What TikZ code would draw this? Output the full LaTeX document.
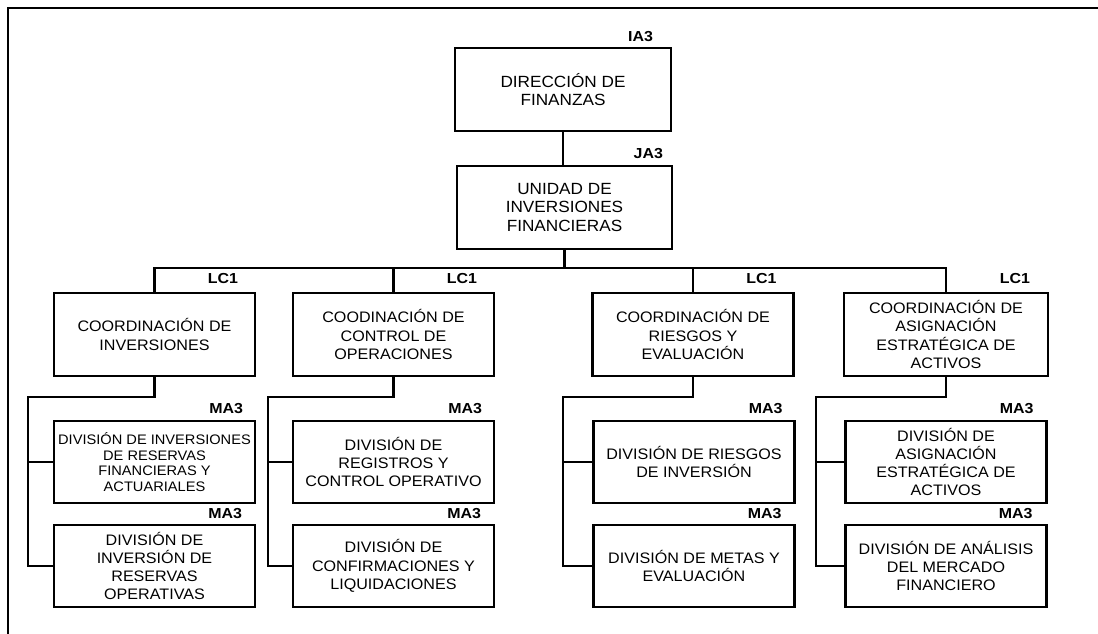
\documentclass[tikz,border=0pt]{standalone}
\usepackage{fontspec}
\usepackage{tikz}
\usetikzlibrary{positioning}

\newfontfamily\cajafont[FakeStretch=1.06]{Liberation Sans}
\newfontfamily\etiqfont[FakeStretch=1.1]{Liberation Sans}

\tikzset{
    caja/.style={draw, align=center, minimum width=201pt, minimum height=83pt,
        inner sep=2pt, font=\cajafont\fontsize{15.2}{18.3}\selectfont},
    cajagrande/.style={caja, font=\cajafont\fontsize{16.2}{18.3}\selectfont},
    nivel/.style={anchor=south east, inner sep=0pt,
        font=\etiqfont\bfseries\fontsize{14.5}{14.5}\selectfont}
}

\begin{document}
\begin{tikzpicture}[x=1pt,y=-1pt]
    \useasboundingbox (0,0) rectangle (1098,634);
    \begin{scope}[line width=2.9pt]
    % Marco:
    \draw (8,634) -- (8,8) -- (1098,8);

    % Direccion y unidad:
    \node [cajagrande, minimum width=216pt] (dir) at (563,89.5) {DIRECCIÓN DE\\FINANZAS};
    \node [cajagrande, minimum width=215pt] (uni) at (564.5,207.5) {UNIDAD DE\\INVERSIONES\\FINANCIERAS};
    \node [nivel] (ia3) at ([xshift=-18pt,yshift=3pt]dir.north east) {IA3};
    \node [nivel] (ja3) at ([xshift=-9pt,yshift=4pt]uni.north east) {JA3};

    % Coordinaciones:
    \node [caja] (c1) at (154.5,334.5) {COORDINACIÓN DE\\INVERSIONES};
    \node [caja] (c2) at (393.5,334.5) {COODINACIÓN DE\\CONTROL DE\\OPERACIONES};
    \node [caja] (c3) at (693,334.5) {COORDINACIÓN DE\\RIESGOS Y\\EVALUACIÓN};
    \node [caja, minimum width=204pt] (c4) at (946,334.5) {COORDINACIÓN DE\\ASIGNACIÓN\\ESTRATÉGICA DE\\ACTIVOS};
    \node [nivel] (lc1a) at ([xshift=-17pt,yshift=6pt]c1.north east) {LC1};
    \node [nivel] (lc1b) at ([xshift=-17pt,yshift=6pt]c2.north east) {LC1};
    \node [nivel] (lc1c) at ([xshift=-17pt,yshift=6pt]c3.north east) {LC1};
    \node [nivel] (lc1d) at ([xshift=-18pt,yshift=6pt]c4.north east) {LC1};

    % Divisiones:
    \node [caja, minimum height=82pt, font=\cajafont\fontsize{13.8}{15.7}\selectfont] (d1a) at (154.5,462) {DIVISIÓN DE INVERSIONES\\DE RESERVAS\\FINANCIERAS Y\\ACTUARIALES};
    \node [caja, minimum height=82pt] (d1b) at (154.5,566) {DIVISIÓN DE\\INVERSIÓN DE\\RESERVAS\\OPERATIVAS};
    \node [caja, minimum height=82pt] (d2a) at (393.5,462) {DIVISIÓN DE\\REGISTROS Y\\CONTROL OPERATIVO};
    \node [caja, minimum height=82pt] (d2b) at (393.5,566) {DIVISIÓN DE\\CONFIRMACIONES Y\\LIQUIDACIONES};
    \node [caja, minimum height=82pt] (d3a) at (694,462) {DIVISIÓN DE RIESGOS\\DE INVERSIÓN};
    \node [caja, minimum height=82pt] (d3b) at (694,566) {DIVISIÓN DE METAS Y\\EVALUACIÓN};
    \node [caja, minimum height=82pt] (d4a) at (946,462) {DIVISIÓN DE\\ASIGNACIÓN\\ESTRATÉGICA DE\\ACTIVOS};
    \node [caja, minimum height=82pt] (d4b) at (946,566) {DIVISIÓN DE ANÁLISIS\\DEL MERCADO\\FINANCIERO};
    \node [nivel] (ma3a) at ([xshift=-12pt,yshift=4pt]d1a.north east) {MA3};
    \node [nivel] (ma3b) at ([xshift=-13pt,yshift=3pt]d1b.north east) {MA3};
    \node [nivel] (ma3c) at ([xshift=-12pt,yshift=4pt]d2a.north east) {MA3};
    \node [nivel] (ma3d) at ([xshift=-13pt,yshift=3pt]d2b.north east) {MA3};
    \node [nivel] (ma3e) at ([xshift=-12pt,yshift=4pt]d3a.north east) {MA3};
    \node [nivel] (ma3f) at ([xshift=-13pt,yshift=3pt]d3b.north east) {MA3};
    \node [nivel] (ma3g) at ([xshift=-13pt,yshift=4pt]d4a.north east) {MA3};
    \node [nivel] (ma3h) at ([xshift=-14pt,yshift=3pt]d4b.north east) {MA3};

    % Lineas de mando:
    \coordinate (bus) at (0,268);
    \draw (dir.south) -- (dir.south |- uni.north);
    \draw (uni.south) -- (uni.south |- bus);
    \draw (c1.north) -- (c1.north |- bus) -- (c4.north |- bus) -- (c4.north);
    \draw (c2.north) -- (c2.north |- bus);
    \draw (c3.north) -- (c3.north |- bus);

    \coordinate (riel1) at (28,397);
    \coordinate (riel2) at (268,397);
    \coordinate (riel3) at (563,397);
    \coordinate (riel4) at (816,397);
    \draw (c1.south) |- (riel1) |- (d1b.west);
    \draw (c2.south) |- (riel2) |- (d2b.west);
    \draw (c3.south) |- (riel3) |- (d3b.west);
    \draw (c4.south) |- (riel4) |- (d4b.west);
    \draw (d1a.west) -- (d1a.west -| riel1);
    \draw (d2a.west) -- (d2a.west -| riel2);
    \draw (d3a.west) -- (d3a.west -| riel3);
    \draw (d4a.west) -- (d4a.west -| riel4);
    \end{scope}
\end{tikzpicture}
\end{document}
